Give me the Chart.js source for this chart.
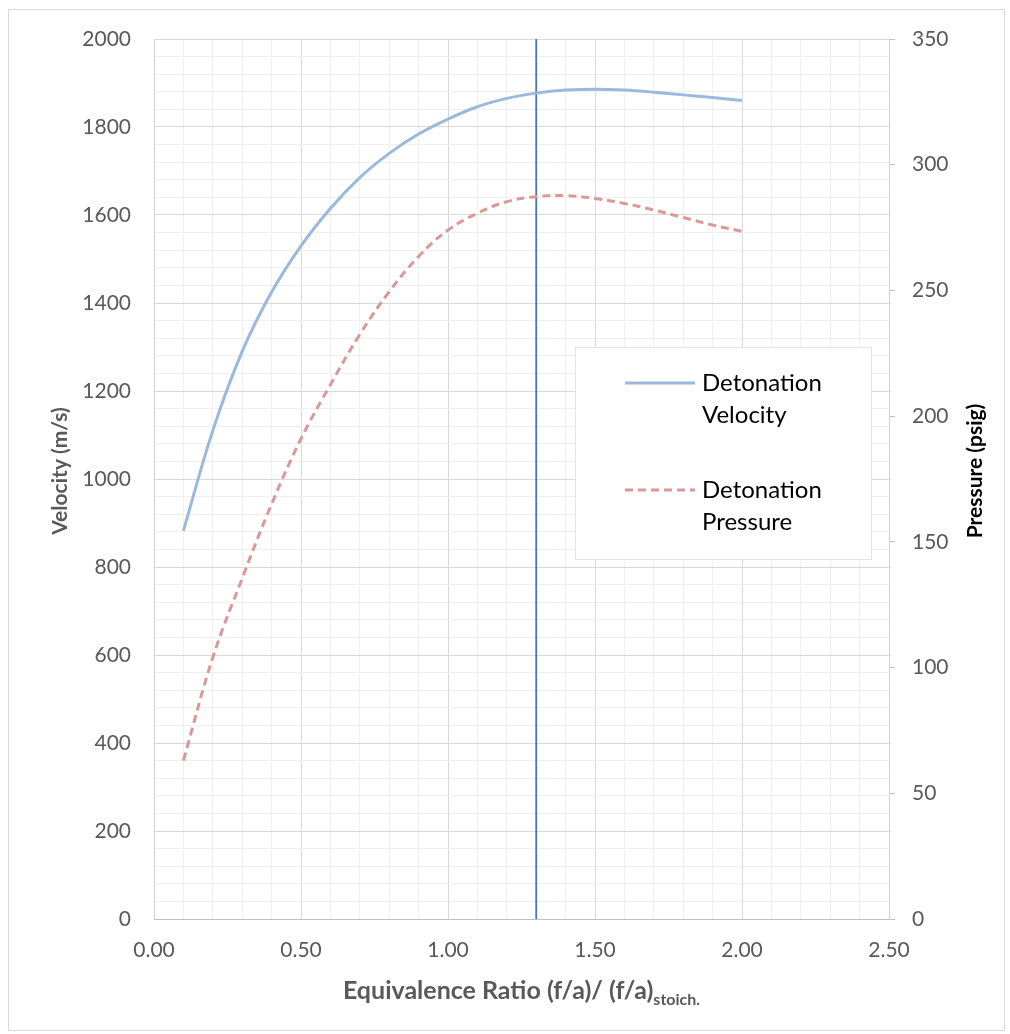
<!doctype html>
<html lang="en">
  <head>
    <meta charset="UTF-8" />
    <title>Detonation Velocity and Pressure</title>
    <style>
      html, body { margin: 0; padding: 0; background: #fff; }
      #wrap { width: 1010px; height: 1034px; }
    </style>
  </head>
  <body>
    <div id="wrap"><canvas id="detChart" width="1010" height="1034"></canvas></div>
    <script src="https://cdn.jsdelivr.net/npm/chart.js"></script>
    <script>
      // equivalence ratio (f/a)/(f/a)stoich
      const ratio = [0.1, 0.2, 0.3, 0.4, 0.5, 0.6, 0.7, 0.8, 0.9, 1.0,
                     1.1, 1.2, 1.3, 1.4, 1.5, 1.6, 1.7, 1.8, 1.9, 2.0];
      // detonation velocity, m/s
      const velocity = [882, 1110, 1290, 1425, 1530, 1615, 1685, 1740, 1784, 1818,
                        1846, 1865, 1877, 1884, 1886, 1884, 1879, 1873, 1867, 1860];
      // detonation pressure, psig
      const pressure = [63, 104, 135.5, 165, 191, 212.5, 232.5, 249.5, 263.5, 274,
                        280.7, 285.3, 287.3, 287.7, 286.6, 284.6, 282, 279, 276, 273.5];
      // vertical reference line
      const markerRatio = 1.3;

      const xMajor = [0, 0.5, 1.0, 1.5, 2.0, 2.5];
      const yMajor = [0, 200, 400, 600, 800, 1000, 1200, 1400, 1600, 1800, 2000];
      const y1Major = [0, 50, 100, 150, 200, 250, 300, 350];

      const legendItems = [
        { lines: ["Detonation", "Velocity"], color: "#9bb9dc", dash: [] },
        { lines: ["Detonation", "Pressure"], color: "#dc9896", dash: [8, 5] },
      ];

      const FONT = "Lato, 'Open Sans', sans-serif";
      const GRID_MAJOR = "#d9d9d9";
      const GRID_MINOR = "#f0f0f0";

      function isMajor(list, v) {
        return list.some((m) => Math.abs(m - v) < 1e-6);
      }

      // 5 minor divisions per major step
      function minorTicks(max, step) {
        const out = [];
        const n = Math.round(max / step);
        for (let i = 0; i <= n; i++) out.push({ value: +(i * step).toFixed(4) });
        return out;
      }

      const decor = {
        id: "decor",
        beforeDraw(chart) {
          const ctx = chart.ctx;
          ctx.save();
          ctx.fillStyle = "#fff";
          ctx.fillRect(0, 0, chart.width, chart.height);
          ctx.strokeStyle = "#d9d9d9";
          ctx.lineWidth = 1;
          ctx.strokeRect(8.5, 9.5, 996, 1021);
          ctx.restore();
        },
        afterDraw(chart) {
          const ctx = chart.ctx;
          const area = chart.chartArea;
          ctx.save();

          // axis titles
          ctx.font = "bold 21px " + FONT;
          ctx.textAlign = "center";
          ctx.textBaseline = "middle";
          ctx.fillStyle = "#595959";
          ctx.save();
          ctx.translate(60, 471);
          ctx.rotate(-Math.PI / 2);
          ctx.fillText("Velocity (m/s)", 0, 0);
          ctx.restore();

          ctx.fillStyle = "#000";
          ctx.save();
          ctx.translate(975, 471);
          ctx.rotate(-Math.PI / 2);
          ctx.fillText("Pressure (psig)", 0, 0);
          ctx.restore();

          // x title with subscript
          const main = "Equivalence Ratio (f/a)/ (f/a)";
          const sub = "stoich.";
          ctx.textBaseline = "alphabetic";
          ctx.textAlign = "left";
          ctx.font = "bold 25px " + FONT;
          const wMain = ctx.measureText(main).width;
          ctx.font = "bold 16px " + FONT;
          const wSub = ctx.measureText(sub).width;
          const x0 = (area.left + area.right) / 2 - (wMain + wSub) / 2;
          ctx.fillStyle = "#595959";
          ctx.font = "bold 25px " + FONT;
          ctx.fillText(main, x0, 999);
          ctx.font = "bold 16px " + FONT;
          ctx.fillText(sub, x0 + wMain, 1005);

          // legend box
          const lx = 575.5, ly = 347.5, lw = 296, lh = 212;
          ctx.fillStyle = "#fff";
          ctx.fillRect(lx, ly, lw, lh);
          ctx.strokeStyle = "#e6e3da";
          ctx.lineWidth = 1;
          ctx.strokeRect(lx, ly, lw, lh);

          ctx.font = "24px " + FONT;
          ctx.textBaseline = "middle";
          ctx.fillStyle = "#000";
          legendItems.forEach((item, i) => {
            const cy = 383 + i * 107;
            ctx.beginPath();
            ctx.strokeStyle = item.color;
            ctx.lineWidth = 3;
            ctx.setLineDash(item.dash);
            ctx.moveTo(625, cy);
            ctx.lineTo(695, cy);
            ctx.stroke();
            ctx.setLineDash([]);
            item.lines.forEach((t, j) => ctx.fillText(t, 702, cy + j * 32));
          });
          ctx.restore();
        },
      };

      const ctx = document.getElementById("detChart").getContext("2d");
      const chart = new Chart(ctx, {
        type: "line",
        data: {
          datasets: [
            {
              label: "Detonation Velocity",
              data: ratio.map((x, i) => ({ x: x, y: velocity[i] })),
              yAxisID: "y",
              borderColor: "#9bb9dc",
              borderWidth: 3,
              pointRadius: 0,
              tension: 0.4,
              fill: false,
            },
            {
              label: "Detonation Pressure",
              data: ratio.map((x, i) => ({ x: x, y: pressure[i] })),
              yAxisID: "y1",
              borderColor: "#dc9896",
              borderWidth: 3,
              borderDash: [8, 5],
              pointRadius: 0,
              tension: 0.4,
              fill: false,
            },
            {
              label: "marker",
              data: [{ x: markerRatio, y: 0 }, { x: markerRatio, y: 2000 }],
              yAxisID: "y",
              borderColor: "#4472c4",
              borderWidth: 1.75,
              pointRadius: 0,
              fill: false,
            },
          ],
        },
        options: {
          responsive: false,
          animation: false,
          layout: { padding: { top: 39 } },
          plugins: { legend: { display: false }, tooltip: { enabled: false } },
          scales: {
            x: {
              type: "linear",
              min: 0,
              max: 2.5,
              afterBuildTicks: (s) => { s.ticks = minorTicks(2.5, 0.1); },
              afterFit: (s) => { s.height = 115; },
              ticks: {
                autoSkip: false,
                maxRotation: 0,
                padding: 19,
                color: "#595959",
                font: { family: FONT, size: 21 },
                callback: (v) => (isMajor(xMajor, v) ? v.toFixed(2) : ""),
              },
              grid: {
                drawTicks: false,
                color: (c) => (isMajor(xMajor, c.tick.value) ? GRID_MAJOR : GRID_MINOR),
              },
              border: { color: "#bfbfbf" },
            },
            y: {
              position: "left",
              min: 0,
              max: 2000,
              afterBuildTicks: (s) => { s.ticks = minorTicks(2000, 40); },
              afterFit: (s) => { s.width = 154; },
              ticks: {
                autoSkip: false,
                padding: 23,
                color: "#595959",
                font: { family: FONT, size: 21 },
                callback: (v) => (isMajor(yMajor, v) ? String(v) : ""),
              },
              grid: {
                drawTicks: false,
                color: (c) => (isMajor(yMajor, c.tick.value) ? GRID_MAJOR : GRID_MINOR),
              },
              border: { color: "#d0d0d0" },
            },
            y1: {
              position: "right",
              min: 0,
              max: 350,
              afterBuildTicks: (s) => { s.ticks = y1Major.map((v) => ({ value: v })); },
              afterFit: (s) => { s.width = 121; },
              ticks: {
                autoSkip: false,
                padding: 17,
                color: "#595959",
                font: { family: FONT, size: 21 },
              },
              grid: {
                drawOnChartArea: false,
                drawTicks: true,
                tickLength: 6,
                color: "#bfbfbf",
              },
              border: { color: "#d0d0d0" },
            },
          },
        },
        plugins: [decor],
      });
    </script>
  </body>
</html>
